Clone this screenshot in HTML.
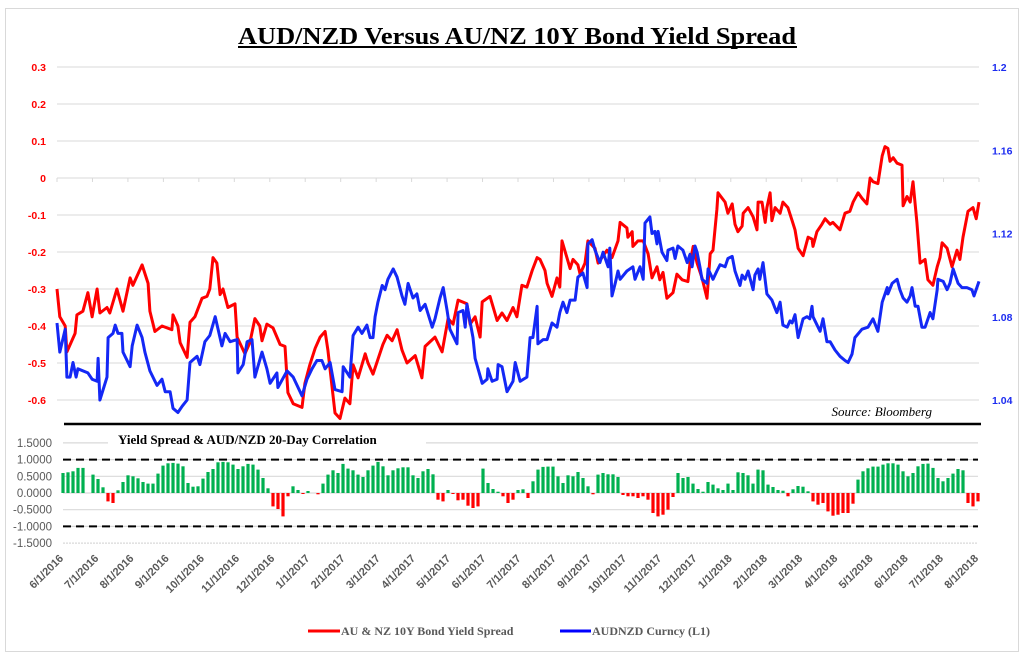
<!DOCTYPE html>
<html><head><meta charset="utf-8"><style>
html,body{margin:0;padding:0;background:#fff;}
svg{display:block;}
</style></head><body>
<svg id="chart" width="1028" height="654" xmlns="http://www.w3.org/2000/svg">
<rect x="5.5" y="8.5" width="1013" height="643" fill="#fff" stroke="#d9d9d9"/>
<text x="517" y="44" text-anchor="middle" font-family="Liberation Serif, serif" font-weight="bold" font-size="24" textLength="558" lengthAdjust="spacingAndGlyphs">AUD/NZD Versus AU/NZ 10Y Bond Yield Spread</text>
<line x1="238" y1="47" x2="797" y2="47" stroke="#000" stroke-width="2"/>
<g id="topg"></g>
<g id="botg"></g>
<line x1="64" y1="424" x2="981" y2="424" stroke="#000" stroke-width="2.5"/>
<text x="932" y="416" text-anchor="end" font-family="Liberation Serif, serif" font-style="italic" font-size="13">Source: Bloomberg</text>
<g>
<line x1="308" y1="631" x2="340" y2="631" stroke="#ff0000" stroke-width="3"/>
<text x="341" y="635" font-family="Liberation Serif, serif" font-weight="bold" font-size="12" fill="#595959">AU &amp; NZ 10Y Bond Yield Spread</text>
<line x1="560" y1="631" x2="591" y2="631" stroke="#0000ff" stroke-width="3"/>
<text x="592" y="635" font-family="Liberation Serif, serif" font-weight="bold" font-size="12" fill="#595959">AUDNZD Curncy  (L1)</text>
</g>
</svg>
<script>
const redT=[0,0.08,0.23,0.28,0.51,0.56,0.73,0.87,0.99,1.13,1.21,1.41,1.49,1.69,1.86,2.06,2.14,2.40,2.57,2.62,2.76,2.96,3.24,3.27,3.41,3.47,3.67,3.75,3.89,4.09,4.23,4.31,4.40,4.51,4.60,4.68,4.82,5.02,5.08,5.30,5.44,5.58,5.72,5.78,5.92,6.09,6.29,6.43,6.51,6.66,6.91,6.99,7.13,7.28,7.42,7.56,7.64,7.84,7.98,8.12,8.26,8.35,8.49,8.69,8.77,8.91,9.19,9.31,9.45,9.59,9.73,9.87,10.10,10.29,10.38,10.66,10.86,11.03,11.17,11.31,11.56,11.65,11.79,11.93,11.99,12.21,12.41,12.55,12.69,12.86,12.97,13.11,13.25,13.40,13.54,13.62,13.76,13.82,13.96,14.10,14.18,14.24,14.38,14.47,14.55,14.69,14.75,14.89,14.97,15.17,15.26,15.51,15.65,15.82,15.88,16.07,16.10,16.22,16.24,16.38,16.53,16.67,16.78,16.92,17.00,17.09,17.20,17.37,17.48,17.63,17.79,17.85,17.94,18.05,18.19,18.33,18.42,18.50,18.61,18.64,18.84,18.92,19.04,19.12,19.20,19.32,19.35,19.49,19.63,19.74,19.77,19.88,19.97,20.02,20.11,20.16,20.25,20.39,20.47,20.61,20.73,20.81,20.90,21.04,21.18,21.29,21.32,21.43,21.57,21.66,21.80,21.88,22.08,22.22,22.36,22.45,22.59,22.70,22.84,22.93,23.01,23.15,23.27,23.35,23.43,23.49,23.58,23.69,23.83,23.86,23.97,24.06,24.14,24.25,24.34,24.48,24.56,24.70,24.82,24.90,24.96,25.10,25.24,25.38,25.46,25.55,25.69,25.83,25.92,26.00];
const redV=[-0.30,-0.375,-0.40,-0.47,-0.42,-0.37,-0.36,-0.31,-0.375,-0.30,-0.365,-0.35,-0.365,-0.30,-0.36,-0.27,-0.29,-0.235,-0.285,-0.36,-0.415,-0.40,-0.41,-0.37,-0.40,-0.445,-0.485,-0.39,-0.375,-0.325,-0.32,-0.30,-0.215,-0.23,-0.315,-0.30,-0.35,-0.34,-0.43,-0.475,-0.445,-0.38,-0.40,-0.44,-0.395,-0.405,-0.45,-0.455,-0.58,-0.61,-0.62,-0.555,-0.505,-0.46,-0.43,-0.415,-0.465,-0.635,-0.65,-0.595,-0.61,-0.505,-0.54,-0.475,-0.50,-0.53,-0.45,-0.425,-0.44,-0.41,-0.465,-0.50,-0.48,-0.54,-0.455,-0.43,-0.47,-0.38,-0.395,-0.33,-0.34,-0.395,-0.375,-0.43,-0.335,-0.32,-0.385,-0.365,-0.385,-0.35,-0.375,-0.29,-0.295,-0.25,-0.215,-0.22,-0.25,-0.285,-0.32,-0.27,-0.295,-0.17,-0.215,-0.245,-0.22,-0.235,-0.26,-0.23,-0.17,-0.19,-0.23,-0.195,-0.215,-0.17,-0.12,-0.135,-0.16,-0.145,-0.185,-0.17,-0.17,-0.205,-0.27,-0.24,-0.275,-0.255,-0.325,-0.31,-0.26,-0.275,-0.28,-0.23,-0.185,-0.23,-0.27,-0.325,-0.205,-0.195,-0.085,-0.04,-0.065,-0.095,-0.07,-0.125,-0.145,-0.13,-0.095,-0.08,-0.105,-0.14,-0.065,-0.065,-0.12,-0.08,-0.04,-0.115,-0.08,-0.095,-0.065,-0.08,-0.115,-0.14,-0.19,-0.21,-0.16,-0.165,-0.185,-0.145,-0.125,-0.11,-0.125,-0.12,-0.14,-0.095,-0.09,-0.065,-0.04,-0.055,-0.07,0.0,-0.01,-0.015,0.06,0.085,0.08,0.045,0.055,0.04,0.035,-0.075,-0.05,-0.065,-0.01,-0.12,-0.23,-0.22,-0.275,-0.29,-0.24,-0.215,-0.175,-0.19,-0.24,-0.195,-0.22,-0.16,-0.09,-0.08,-0.11,-0.065];
const blueT=[0,0.08,0.23,0.28,0.37,0.45,0.54,0.59,0.87,0.99,1.13,1.16,1.21,1.41,1.44,1.58,1.64,1.72,1.83,1.86,2.06,2.12,2.26,2.40,2.48,2.62,2.82,2.96,3.05,3.19,3.27,3.41,3.53,3.67,3.75,3.95,4.03,4.17,4.31,4.46,4.65,4.74,4.88,5.08,5.10,5.25,5.36,5.50,5.58,5.78,5.92,6.01,6.20,6.23,6.49,6.66,6.91,7.05,7.19,7.33,7.47,7.56,7.70,7.84,8.04,8.07,8.26,8.35,8.49,8.60,8.74,8.83,8.91,8.97,9.05,9.17,9.25,9.33,9.48,9.59,9.73,9.81,9.90,10.04,10.15,10.24,10.38,10.58,10.66,10.80,10.89,11.00,11.08,11.28,11.31,11.45,11.51,11.56,11.73,11.79,11.99,12.13,12.15,12.27,12.41,12.44,12.55,12.69,12.86,12.92,13.06,13.25,13.34,13.42,13.54,13.56,13.71,13.82,13.96,14.10,14.18,14.27,14.38,14.47,14.61,14.69,14.83,14.95,14.97,15.09,15.17,15.31,15.40,15.54,15.59,15.65,15.74,15.82,15.88,16.07,16.24,16.30,16.44,16.53,16.58,16.72,16.78,16.86,16.92,16.95,17.06,17.20,17.23,17.37,17.43,17.51,17.65,17.77,17.85,17.91,17.99,18.05,18.13,18.19,18.33,18.36,18.50,18.61,18.70,18.84,18.92,19.04,19.12,19.26,19.32,19.40,19.49,19.63,19.68,19.77,19.82,19.91,20.02,20.16,20.25,20.30,20.39,20.47,20.59,20.67,20.73,20.81,20.90,21.04,21.15,21.23,21.29,21.32,21.52,21.60,21.71,21.80,21.94,22.08,22.22,22.31,22.42,22.50,22.70,22.87,23.01,23.15,23.27,23.41,23.43,23.55,23.69,23.77,23.86,23.97,24.06,24.11,24.20,24.28,24.39,24.48,24.62,24.70,24.82,24.84,24.99,25.10,25.18,25.27,25.41,25.52,25.66,25.80,25.86,26.00];
const blueV=[1.077,1.063,1.074,1.051,1.051,1.058,1.051,1.055,1.053,1.050,1.049,1.060,1.040,1.051,1.070,1.072,1.076,1.072,1.072,1.063,1.056,1.066,1.076,1.070,1.063,1.054,1.047,1.050,1.044,1.044,1.036,1.034,1.037,1.040,1.058,1.061,1.057,1.068,1.071,1.080,1.066,1.072,1.068,1.069,1.053,1.057,1.068,1.069,1.051,1.063,1.055,1.048,1.053,1.046,1.054,1.051,1.042,1.050,1.055,1.059,1.059,1.055,1.058,1.045,1.044,1.056,1.051,1.071,1.075,1.072,1.076,1.070,1.070,1.080,1.087,1.095,1.093,1.098,1.103,1.099,1.090,1.086,1.096,1.089,1.091,1.083,1.086,1.075,1.079,1.089,1.094,1.083,1.074,1.067,1.082,1.083,1.075,1.086,1.070,1.060,1.048,1.050,1.055,1.049,1.050,1.057,1.056,1.044,1.049,1.058,1.049,1.051,1.070,1.070,1.085,1.067,1.069,1.069,1.077,1.075,1.082,1.087,1.082,1.088,1.088,1.099,1.101,1.094,1.115,1.117,1.112,1.106,1.111,1.104,1.113,1.090,1.096,1.102,1.098,1.102,1.104,1.098,1.104,1.098,1.125,1.128,1.120,1.121,1.115,1.121,1.111,1.107,1.112,1.113,1.108,1.114,1.112,1.106,1.110,1.104,1.114,1.111,1.104,1.098,1.096,1.103,1.098,1.102,1.105,1.104,1.108,1.109,1.102,1.095,1.100,1.098,1.102,1.093,1.100,1.103,1.098,1.106,1.091,1.088,1.084,1.082,1.087,1.076,1.075,1.078,1.077,1.081,1.070,1.079,1.080,1.079,1.085,1.080,1.073,1.079,1.068,1.068,1.064,1.061,1.059,1.058,1.062,1.070,1.074,1.075,1.079,1.073,1.087,1.094,1.091,1.096,1.098,1.093,1.089,1.087,1.090,1.094,1.085,1.085,1.075,1.075,1.082,1.079,1.093,1.098,1.097,1.093,1.096,1.103,1.096,1.094,1.094,1.093,1.090,1.097];
const corrV=[0.60,0.62,0.65,0.75,0.75,0,0.55,0.42,0.17,-0.25,-0.3,0.08,0.33,0.53,0.5,0.44,0.33,0.28,0.28,0.58,0.82,0.89,0.9,0.88,0.8,0.3,0.19,0.2,0.43,0.63,0.72,0.92,0.93,0.92,0.85,0.72,0.8,0.87,0.85,0.7,0.45,0.14,-0.4,-0.48,-0.7,-0.1,0.2,0.09,-0.03,0.06,0,-0.04,0.28,0.55,0.68,0.6,0.87,0.73,0.68,0.55,0.48,0.68,0.82,0.93,0.8,0.53,0.68,0.74,0.77,0.77,0.53,0.45,0.65,0.72,0.56,-0.2,-0.25,0.09,-0.03,-0.22,-0.2,-0.38,-0.45,-0.4,0.73,0.3,0.12,0.04,-0.1,-0.3,-0.2,0.09,0.11,
-0.15,0.35,0.7,0.78,0.79,0.79,0.5,0.3,0.53,0.5,0.63,0.45,0.2,-0.04,0.55,0.6,0.56,0.56,0.48,-0.06,-0.1,-0.1,-0.15,-0.1,-0.2,-0.6,-0.7,-0.65,-0.5,-0.12,0.6,0.45,0.48,0.28,0.12,0.04,0.33,0.25,0.14,0.09,0.28,0.09,0.62,0.6,0.53,0.28,0.7,0.68,0.25,0.18,0.09,0.07,-0.1,0.11,0.21,0.19,0.05,-0.25,-0.35,-0.3,-0.55,-0.68,-0.65,-0.6,-0.6,-0.32,0.4,0.65,0.74,0.79,0.79,0.85,0.89,0.89,0.85,0.65,0.5,0.6,0.8,0.87,0.88,0.75,0.45,0.35,0.45,0.58,0.72,0.68,-0.3,-0.4,-0.25];
const leftTicks=[0.3,0.2,0.1,0,-0.1,-0.2,-0.3,-0.4,-0.5,-0.6];
const leftLabels=["0.3","0.2","0.1","0","-0.1","-0.2","-0.3","-0.4","-0.5","-0.6"];
const rightTicks=[1.2,1.16,1.12,1.08,1.04];
const rightLabels=["1.2","1.16","1.12","1.08","1.04"];
const corrTicks=[1.5,1,0.5,0,-0.5,-1,-1.5];
const corrLabels=["1.5000","1.0000","0.5000","0.0000","-0.5000","-1.0000","-1.5000"];
const dateLabels=["6/1/2016","7/1/2016","8/1/2016","9/1/2016","10/1/2016","11/1/2016","12/1/2016","1/1/2017","2/1/2017","3/1/2017","4/1/2017","5/1/2017","6/1/2017","7/1/2017","8/1/2017","9/1/2017","10/1/2017","11/1/2017","12/1/2017","1/1/2018","2/1/2018","3/1/2018","4/1/2018","5/1/2018","6/1/2018","7/1/2018","8/1/2018"];

const NS="http://www.w3.org/2000/svg";
function mk(parent,tag,attrs,text){const e=document.createElementNS(NS,tag);for(const k in attrs)e.setAttribute(k,attrs[k]);if(text!==undefined)e.textContent=text;parent.appendChild(e);return e;}
const NM=dateLabels.length-1;
const xU=t=>57+t*(922/NM);
const yL=v=>178-v*370;
const yR=v=>67+(1.2-v)*(333/0.16);
const xB=t=>63+t*(915/NM);
const yB=v=>493-v*33.4;
const topG=document.getElementById('topg'),botG=document.getElementById('botg');

leftTicks.forEach((v,i)=>{
  const g=mk(topG,'line',{x1:57,x2:979,y1:yL(v),y2:yL(v),stroke:'#d9d9d9','stroke-width':1});
  
  
  const t=mk(topG,'text',{x:46,y:yL(v)+4,'text-anchor':'end','font-family':'Liberation Sans, sans-serif','font-weight':'bold','font-size':10.5,fill:'#ff0000'},leftLabels[i]);
  
  
});
for(let m=0;m<=NM;m++){
  const tk=mk(topG,'line',{x1:xU(m),x2:xU(m),y1:178,y2:182,stroke:'#d9d9d9'});
  
  
}
rightTicks.forEach((v,i)=>{
  const t=mk(topG,'text',{x:992,y:yR(v)+4,'font-family':'Liberation Sans, sans-serif','font-weight':'bold','font-size':10.5,fill:'#1c2cf0'},rightLabels[i]);
  
  
});
function drawLine(T,V,yf,color,name){
  const d=T.map((t,i)=>(i?'L':'M')+xU(t).toFixed(1)+','+yf(V[i]).toFixed(1)).join('');
  const p=mk(topG,'path',{d:d,fill:'none',stroke:color,'stroke-width':3,'stroke-linejoin':'round'});
  
  
}
drawLine(redT,redV,yL,'#ff0000','spread-line');
drawLine(blueT,blueV,yR,'#1428f5','audnzd-line');

corrTicks.forEach((v,i)=>{
  const g=mk(botG,'line',{x1:63,x2:978,y1:yB(v),y2:yB(v),stroke:'#d9d9d9','stroke-width':1.2,'stroke-dasharray':v===-1.5?'2,1':'none'});
  
  
  const t=mk(botG,'text',{x:52,y:yB(v)+4,'text-anchor':'end','font-family':'Liberation Sans, sans-serif','font-size':11.5,fill:'#595959'},corrLabels[i]);
  
  
});
const nBars=corrV.length;
corrV.forEach((v,i)=>{
  const t=i*NM/(nBars-1);
  const x=xB(t);
  const y0=yB(0),y1=yB(v);
  const r=mk(botG,'rect',{x:(x-1.6).toFixed(1),y:Math.min(y0,y1).toFixed(1),width:3.2,height:Math.abs(y1-y0).toFixed(1),fill:v>=0?'#00b050':'#ff0000'});
  
  
});
[1,-1].forEach(v=>{
  const l=mk(botG,'line',{x1:63,x2:978,y1:yB(v),y2:yB(v),stroke:'#000','stroke-width':2,'stroke-dasharray':'8,5'});
  
  
});
const st=mk(botG,'rect',{x:108,y:432,width:318,height:16,fill:'#fff'});


const sub=mk(botG,'text',{x:118,y:444,'font-family':'Liberation Serif, serif','font-weight':'bold','font-size':13},'Yield Spread & AUD/NZD 20-Day Correlation');


dateLabels.forEach((s,m)=>{
  const x=xB(m)+1;
  const t=mk(botG,'text',{x:x,y:559,'text-anchor':'end','font-family':'Liberation Sans, sans-serif','font-weight':'bold','font-size':11,fill:'#595959',transform:'rotate(-45 '+x+' 559)'},s);
  
  
});
</script>
</body></html>
